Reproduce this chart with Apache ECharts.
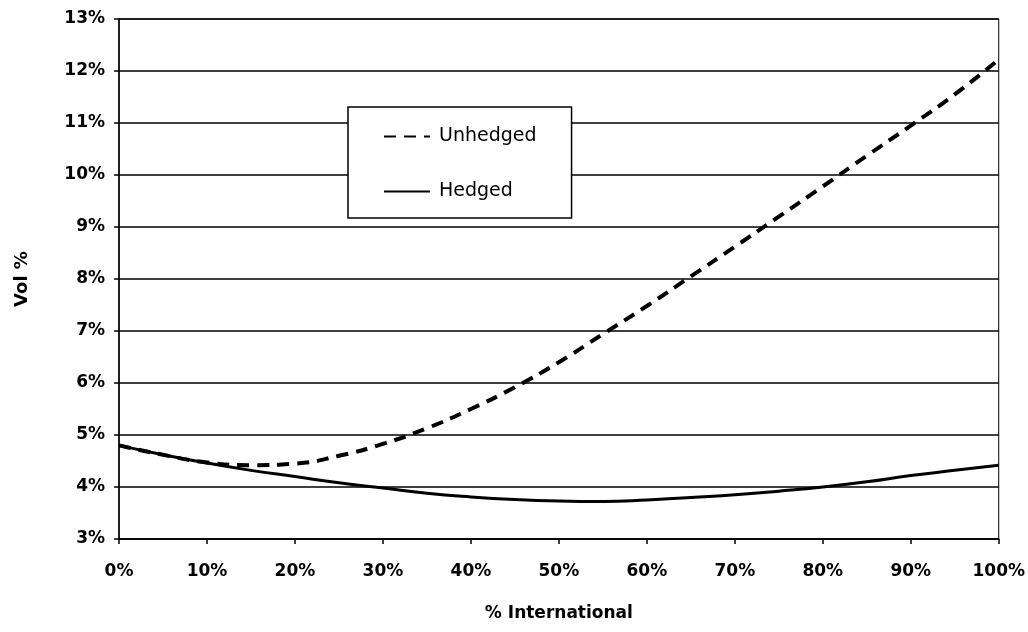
<!DOCTYPE html>
<html>
<head>
<meta charset="utf-8">
<script src="https://cdn.jsdelivr.net/npm/echarts@6/dist/echarts.min.js"></script>
<style>
html,body{margin:0;padding:0;background:#fff;}
#chart{width:1028px;height:632px;}
</style>
</head>
<body>
<div id="chart"></div>
<script>
// % International (x values)
const intlPct = [0, 5, 10, 15, 20, 25, 30, 35, 40, 45, 50, 55, 60, 65, 70, 75, 80, 85, 90, 95, 100];
// Vol % for the unhedged portfolio
const unhedged = [4.80, 4.62, 4.47, 4.42, 4.45, 4.60, 4.83, 5.13, 5.50, 5.92, 6.40, 6.94, 7.48, 8.05, 8.62, 9.20, 9.78, 10.37, 10.95, 11.55, 12.22];
// Vol % for the hedged portfolio
const hedged = [4.80, 4.62, 4.46, 4.32, 4.20, 4.08, 3.98, 3.88, 3.81, 3.76, 3.73, 3.72, 3.75, 3.80, 3.85, 3.92, 4.00, 4.10, 4.22, 4.32, 4.42];
const seriesNames = ['Unhedged', 'Hedged'];
const xTitle = '% International';
const yTitle = 'Vol %';

const font = 'DejaVu Sans';
const chart = echarts.init(document.getElementById('chart'), null, {renderer: 'canvas'});
chart.setOption({
  animation: false,
  backgroundColor: '#fff',
  grid: {left: 119, right: 27, top: 19, bottom: 93, show: true, borderColor: '#000', borderWidth: 1, backgroundColor: 'transparent'},
  legend: {
    left: 348, top: 107, orient: 'vertical',
    data: seriesNames,
    backgroundColor: '#fff', borderColor: '#000', borderWidth: 1.5,
    padding: [20, 35, 17, 35],
    itemWidth: 46, itemHeight: 20, itemGap: 36,
    itemStyle: {opacity: 0},
    lineStyle: {inactiveWidth: 2},
    textStyle: {fontFamily: font, fontSize: 19, color: '#000', padding: [0, 0, 0, 4]}
  },
  xAxis: {
    type: 'value', min: 0, max: 100, interval: 10,
    name: xTitle, nameLocation: 'middle', nameGap: 66,
    nameTextStyle: {fontFamily: font, fontSize: 17, fontWeight: 'bold', color: '#000'},
    axisLine: {show: true, lineStyle: {color: '#000', width: 1.5}},
    axisTick: {show: true, length: 5, lineStyle: {color: '#000', width: 1.5}},
    axisLabel: {formatter: '{value}%', margin: 24, fontFamily: font, fontSize: 17, fontWeight: 'bold', color: '#000'},
    splitLine: {show: false}
  },
  yAxis: {
    type: 'value', min: 3, max: 13, interval: 1,
    name: yTitle, nameLocation: 'middle', nameGap: 88,
    nameTextStyle: {fontFamily: font, fontSize: 18, fontWeight: 'bold', color: '#000'},
    axisLine: {show: true, lineStyle: {color: '#000', width: 1.5}},
    axisTick: {show: true, length: 5, lineStyle: {color: '#000', width: 1.5}},
    axisLabel: {formatter: '{value}%', margin: 14, fontFamily: font, fontSize: 17, fontWeight: 'bold', color: '#000'},
    splitLine: {show: true, lineStyle: {color: '#000', width: 1.5}}
  },
  series: [
    {
      name: seriesNames[0], type: 'line', smooth: true, showSymbol: false, symbol: 'none',
      data: intlPct.map((x, i) => [x, unhedged[i]]),
      lineStyle: {color: '#000', width: 4, type: [12, 8]},
      itemStyle: {color: '#000'}
    },
    {
      name: seriesNames[1], type: 'line', smooth: true, showSymbol: false, symbol: 'none',
      data: intlPct.map((x, i) => [x, hedged[i]]),
      lineStyle: {color: '#000', width: 3, type: 'solid'},
      itemStyle: {color: '#000'}
    }
  ]
});
</script>
</body>
</html>
